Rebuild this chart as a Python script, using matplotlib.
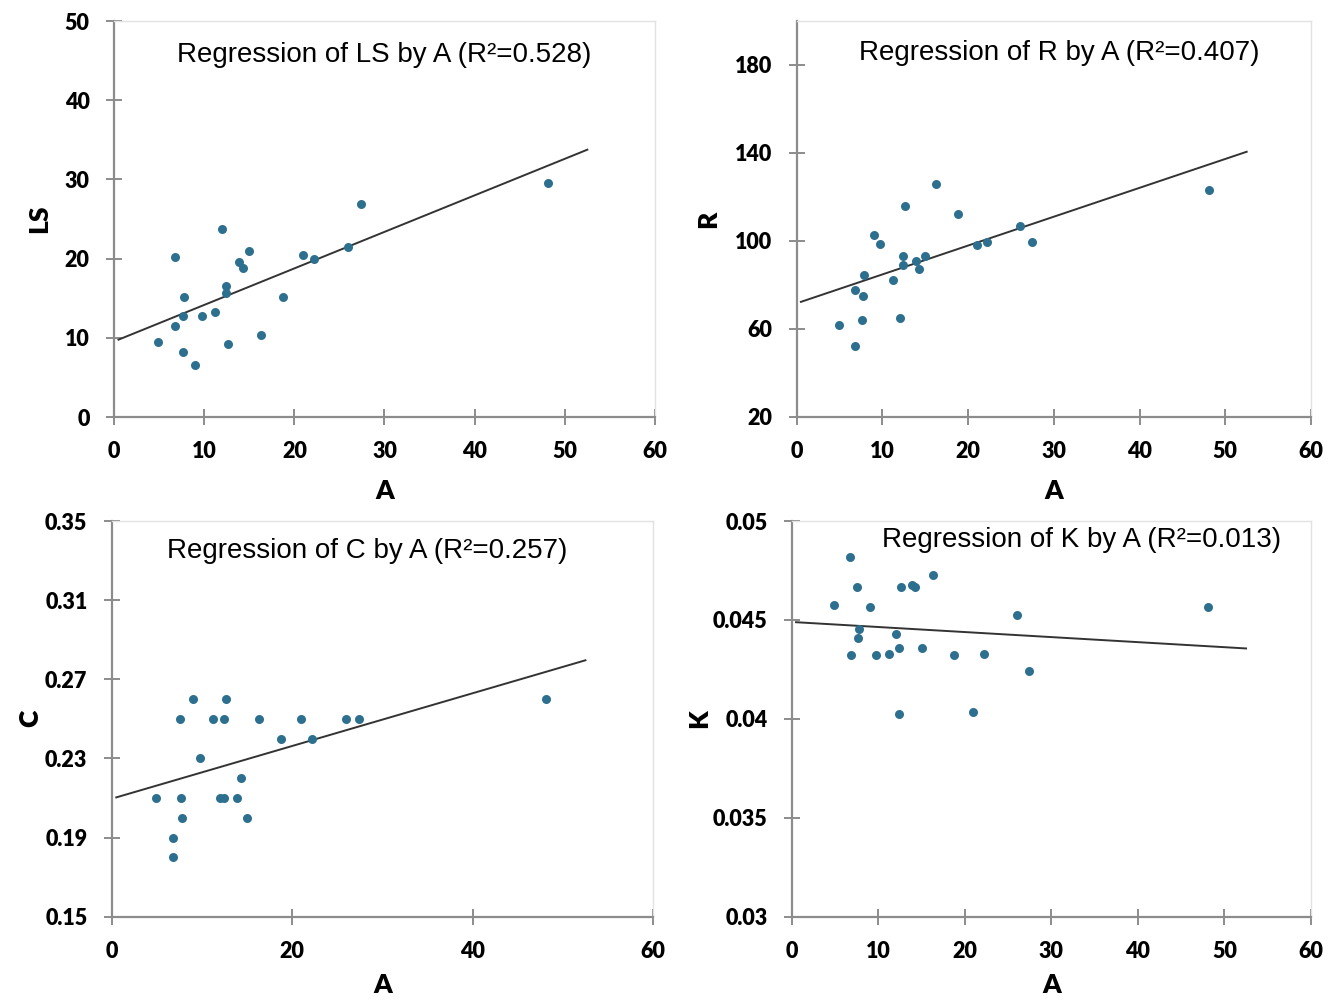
import numpy as np
import matplotlib
matplotlib.use("Agg")
import matplotlib.pyplot as plt
from matplotlib.ticker import FuncFormatter

# sample values
a_vals = [4.9, 6.75, 6.8, 7.6, 7.7, 7.8, 9.0, 9.75, 11.25, 12.0, 12.4, 12.45,
          12.65, 13.9, 14.3, 15.0, 16.3, 18.8, 21.0, 22.2, 26.0, 27.4, 48.1]
ls_vals = [9.5, 20.2, 11.5, 12.7, 8.2, 15.2, 6.6, 12.7, 13.2, 23.7, 16.6, 15.7,
           9.2, 19.6, 18.8, 20.9, 10.3, 15.1, 20.4, 20.0, 21.5, 26.9, 29.5]
r_vals = [61.8, 52.3, 77.5, 64.1, 75.0, 84.4, 102.7, 98.7, 82.1, 65.0, 93.2, 89.2,
          115.9, 91.0, 87.4, 93.2, 126.0, 112.0, 97.9, 99.6, 106.6, 99.6, 123.0]
c_vals = [0.21, 0.19, 0.18, 0.25, 0.21, 0.20, 0.26, 0.23, 0.25, 0.21, 0.21, 0.25,
          0.26, 0.21, 0.22, 0.20, 0.25, 0.24, 0.25, 0.24, 0.25, 0.25, 0.26]
k_vals = [0.04577, 0.04816, 0.04321, 0.04665, 0.04411, 0.04453, 0.04567, 0.04321,
          0.0433, 0.0443, 0.04359, 0.04025, 0.04665, 0.04677, 0.04665, 0.04359,
          0.04727, 0.04321, 0.04033, 0.0433, 0.04523, 0.04244, 0.04567]

titles = ["Regression of LS by A (R²=0.528)", "Regression of R by A (R²=0.407)",
          "Regression of C by A (R²=0.257)", "Regression of K by A (R²=0.013)"]
y_names = ["LS", "R", "C", "K"]

panels = [
    # rect, y data, ylim, yticks, xticks, title x, title y, ylabel x, xlabel pad
    ([0.0852, 0.583, 0.4043, 0.396], ls_vals, (0, 50), np.arange(0, 51, 10),
     np.arange(0, 61, 10), 0.499, 0.914, -0.117, 12),
    ([0.5954, 0.5833, 0.3844, 0.3957], r_vals, (20, 200), [20, 60, 100, 140, 180],
     np.arange(0, 61, 10), 0.510, 0.919, -0.148, 12),
    ([0.0835, 0.0833, 0.4046, 0.3957], c_vals, (0.15, 0.35),
     [0.15, 0.19, 0.23, 0.27, 0.31, 0.35], [0, 20, 40, 60], 0.4726, 0.924, -0.128, 8),
    ([0.5917, 0.0833, 0.3881, 0.3957], k_vals, (0.03, 0.05),
     [0.03, 0.035, 0.04, 0.045, 0.05], np.arange(0, 61, 10), 0.559, 0.952, -0.155, 8),
]

dot = "#2d6f8e"
axis_gray = "#8c8c8c"
tick_font = "Lato"

fig = plt.figure(figsize=(13.38, 10), dpi=100)

for i, (rect, yv, ylim, yt, xt, tx, ty, ylx, xpad) in enumerate(panels):
    ax = fig.add_axes(rect)
    ax.scatter(a_vals, yv, s=42, color=dot, zorder=3, linewidths=0)

    slope, icpt = np.polyfit(a_vals, yv, 1)
    xl = np.array([0.5, 52.5])
    ax.plot(xl, icpt + slope * xl, color="#333333", lw=1.4, zorder=2)

    ax.set_xlim(0, 60)
    ax.set_ylim(*ylim)
    ax.set_xticks(xt)
    ax.set_yticks(yt)
    ax.yaxis.set_major_formatter(FuncFormatter(lambda v, p: "%g" % round(v, 4)))

    for s in ["left", "bottom"]:
        ax.spines[s].set_color(axis_gray)
        ax.spines[s].set_linewidth(1.6)
    for s in ["top", "right"]:
        ax.spines[s].set_color("#e2e2e2")
        ax.spines[s].set_linewidth(1.0)

    ax.tick_params(direction="inout", length=11, width=1.4, color=axis_gray,
                   labelsize=15.5)
    ax.tick_params(axis="y", pad=12)
    ax.tick_params(axis="x", pad=12)
    for lab in ax.get_xticklabels() + ax.get_yticklabels():
        lab.set_fontfamily(tick_font)
        lab.set_fontweight("heavy")

    ax.set_xlabel("A", fontsize=19, fontweight="heavy", fontfamily=tick_font,
                  labelpad=xpad)
    ax.set_ylabel(y_names[i], fontsize=19, fontweight="heavy", fontfamily=tick_font)
    ax.yaxis.set_label_coords(ylx, 0.5)

    ax.text(tx, ty, titles[i], transform=ax.transAxes, ha="center", va="center",
            fontsize=20, fontfamily="Liberation Sans")

fig.savefig("out.png", dpi=100)
